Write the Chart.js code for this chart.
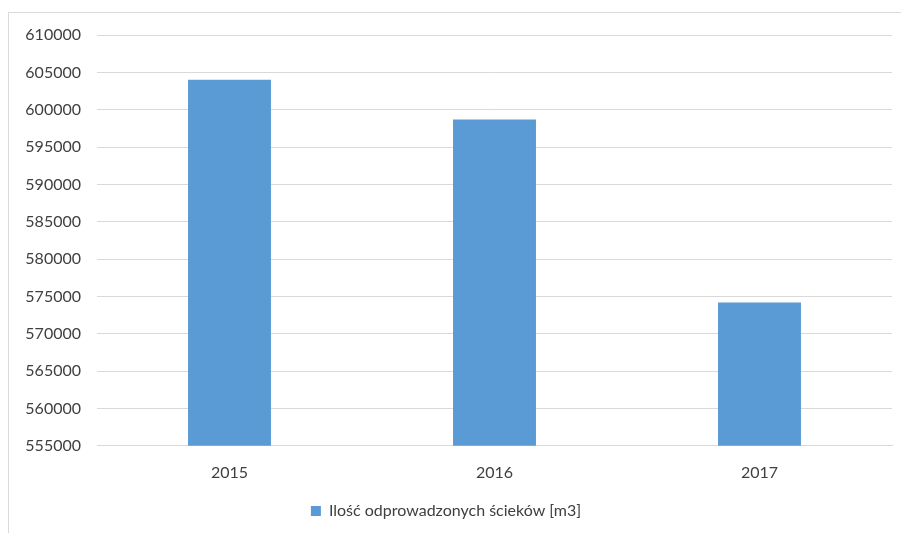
<!DOCTYPE html>
<html>
<head>
<meta charset="utf-8">
<script src="https://cdn.jsdelivr.net/npm/chart.js@4"></script>
<style>
  html, body { margin: 0; padding: 0; background: #fff; overflow: hidden; }
  #ramka { position: absolute; left: 8px; top: 12px; width: 1000px; height: 600px;
           border-left: 1px solid #d9d9d9; border-top: 1px solid #d9d9d9; }
  #wrap { position: absolute; left: 0; top: 0; width: 901px; height: 533px; }
</style>
</head>
<body>
<div id="ramka"></div>
<div id="wrap"><canvas id="wykres"></canvas></div>
<script>
const lata = ['2015', '2016', '2017'];
const scieki = [604000, 598700, 574200];
const nazwaSerii = 'Ilość odprowadzonych ścieków [m3]';

const kolor = '#5b9bd5';
const siatka = '#d9d9d9';
const tekst = '#404040';

new Chart(document.getElementById('wykres'), {
    type: 'bar',
    data: {
        labels: lata,
        datasets: [{
            label: nazwaSerii,
            data: scieki,
            backgroundColor: kolor,
            borderWidth: 0,
            barPercentage: 0.313,
            categoryPercentage: 1
        }]
    },
    options: {
        responsive: true,
        maintainAspectRatio: false,
        animation: false,
        layout: { padding: { top: 35, right: 9, left: 0, bottom: 4 } },
        plugins: {
            tooltip: { enabled: false },
            legend: {
                position: 'bottom',
                labels: {
                    boxWidth: 10,
                    boxHeight: 10,
                    color: tekst,
                    padding: 12,
                    font: { family: 'Lato', size: 16 }
                }
            }
        },
        scales: {
            x: {
                grid: { display: false },
                border: { display: true, color: siatka },
                ticks: { color: tekst, padding: 9, font: { family: 'Lato', size: 16 } }
            },
            y: {
                min: 555000,
                max: 610000,
                afterFit: s => { s.width = 97; },
                grid: { color: siatka, drawTicks: false },
                border: { display: false },
                ticks: {
                    stepSize: 5000,
                    padding: 16,
                    color: tekst,
                    font: { family: 'Lato', size: 16 },
                    callback: v => String(v)
                }
            }
        }
    }
});
</script>
</body>
</html>
